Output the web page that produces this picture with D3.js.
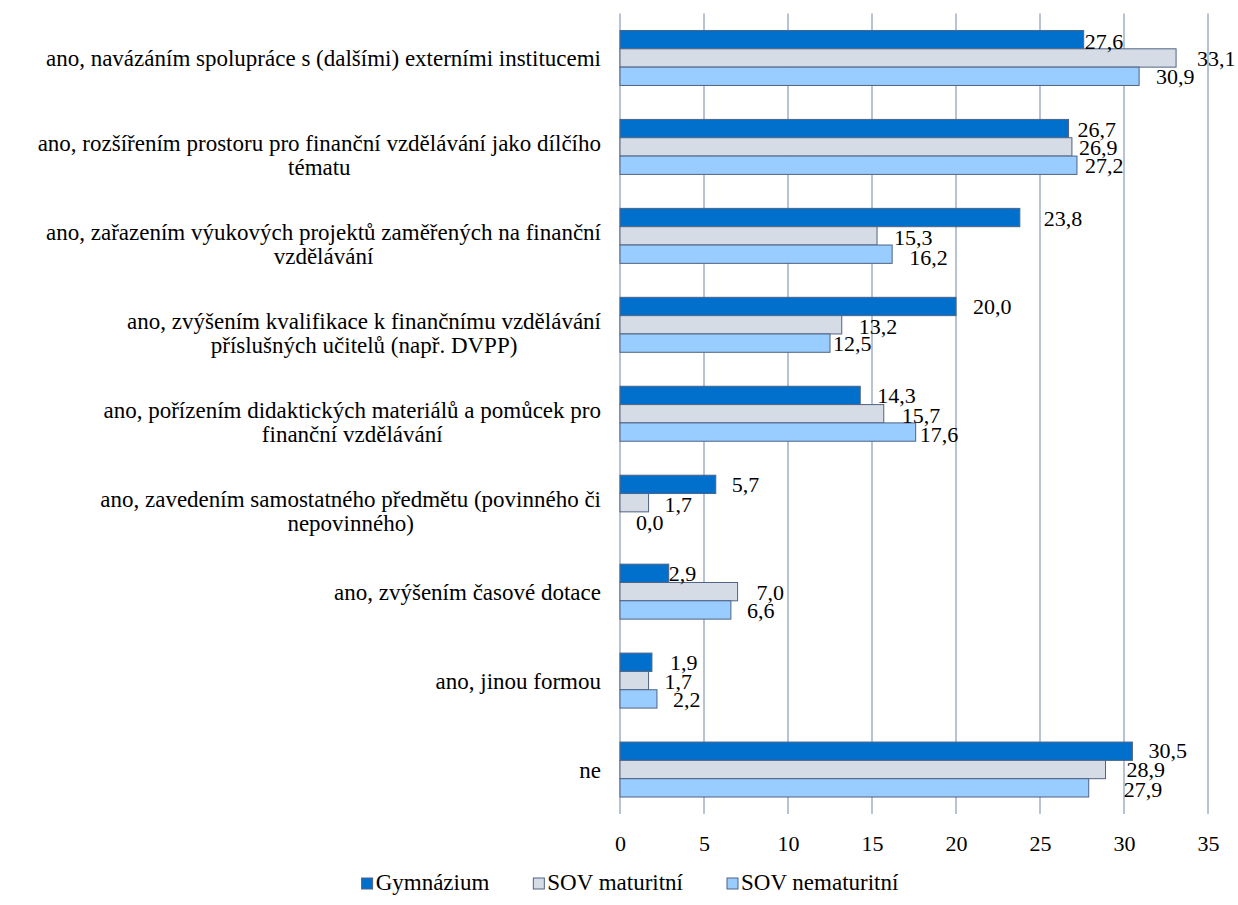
<!DOCTYPE html>
<html>
<head>
<meta charset="utf-8">
<script src="https://cdn.jsdelivr.net/npm/d3@7"></script>
<style>
  html, body { margin: 0; padding: 0; background: #fff; }
  svg { display: block; }
  svg text { font-family: "Liberation Serif", "Times New Roman", serif; }
</style>
</head>
<body>
<svg id="chart" width="1238" height="905"></svg>
<script>
// Category labels (already split into the lines they wrap to)
const categories = [
  ["ano, navázáním spolupráce s (dalšími) externími institucemi"],
  ["ano, rozšířením prostoru pro finanční vzdělávání jako dílčího", "tématu"],
  ["ano, zařazením výukových projektů zaměřených na finanční", "vzdělávání"],
  ["ano, zvýšením kvalifikace k finančnímu vzdělávání", "příslušných učitelů (např. DVPP)"],
  ["ano, pořízením didaktických materiálů a pomůcek pro", "finanční vzdělávání"],
  ["ano, zavedením samostatného předmětu (povinného či", "nepovinného)"],
  ["ano, zvýšením časové dotace"],
  ["ano, jinou formou"],
  ["ne"]
];

const seriesNames = ["Gymnázium", "SOV maturitní", "SOV nematuritní"];

// Percentages per category for each school type
const gymnazium      = [27.6, 26.7, 23.8, 20.0, 14.3, 5.7, 2.9, 1.9, 30.5];
const sovMaturitni   = [33.1, 26.9, 15.3, 13.2, 15.7, 1.7, 7.0, 1.7, 28.9];
const sovNematuritni = [30.9, 27.2, 16.2, 12.5, 17.6, 0.0, 6.6, 2.2, 27.9];

const xTicks = [0, 5, 10, 15, 20, 25, 30, 35];

// Per-label nudges [dx, dy] so that crowded value labels do not collide
const labelNudge = [
  [[-15, 1], [5, 0], [1, 0]],
  [[-7, 0], [-9, 0], [-8, 0]],
  [[8, 0], [1, 1], [1, 3]],
  [[1, 0], [1, 1], [-13, 0]],
  [[1, 0], [2, 1], [-12, 2]],
  [[0, 0], [0, 1], [0, 1]],
  [[-16, 0], [3, 0], [0, 0]],
  [[2, 0], [0, 0], [0, 0]],
  [[0, -1], [5, -1], [19, 1]]
];

const colors = ["#0070cc", "#d6dce5", "#99ccff"];
const barStroke = "#4f6383";
const gridColor = "#a5b3c8";
const fontSize = 22;
const catFontSize = 23;
const legendFontSize = 23;

const values = [gymnazium, sovMaturitni, sovNematuritni];
const rows = categories.map((lines, i) => ({
  i, lines,
  vals: seriesNames.map((s, k) => ({ k, v: values[k][i] }))
}));

const svg = d3.select("#chart").attr("font-size", fontSize);

const plot = { left: 620, right: 1208, top: 13.5, bottom: 814 };

const x = d3.scaleLinear().domain([0, 35]).range([plot.left, plot.right]);
const y0 = d3.scaleBand()
  .domain(d3.range(categories.length))
  .range([plot.top, plot.bottom])
  .paddingInner(0.382)
  .paddingOuter(0.191);
const y1 = d3.scaleBand()
  .domain(d3.range(seriesNames.length))
  .range([0, y0.bandwidth()]);

// Vertical gridlines
svg.append("g")
  .selectAll("line")
  .data(xTicks)
  .join("line")
  .attr("x1", d => x(d)).attr("x2", d => x(d))
  .attr("y1", plot.top).attr("y2", plot.bottom)
  .attr("stroke", gridColor)
  .attr("stroke-width", 1.6);

// X axis tick labels
const xAxis = d3.axisBottom(x).tickValues(xTicks).tickSize(0).tickPadding(0).tickFormat(d3.format("d"));
const gx = svg.append("g")
  .attr("transform", `translate(0,${plot.bottom})`)
  .call(xAxis)
  .attr("font-family", null)
  .attr("font-size", fontSize);
gx.select(".domain").remove();
gx.selectAll("text")
  .attr("y", 37).attr("dy", null)
  .attr("fill", "#000");

// Bars
const groups = svg.append("g")
  .selectAll("g")
  .data(rows)
  .join("g")
  .attr("transform", d => `translate(0,${y0(d.i)})`);

groups.selectAll("rect")
  .data(d => d.vals)
  .join("rect")
  .attr("x", x(0))
  .attr("y", d => y1(d.k))
  .attr("width", d => x(d.v) - x(0))
  .attr("height", y1.bandwidth())
  .attr("fill", d => colors[d.k])
  .attr("stroke", barStroke)
  .attr("stroke-width", 1);

// Value labels (decimal comma)
const fmt = v => d3.format(".1f")(v).replace(".", ",");
groups.selectAll("text.val")
  .data(d => d.vals.map(v => ({ ...v, nudge: labelNudge[d.i][v.k] })))
  .join("text")
  .attr("class", "val")
  .attr("x", d => x(d.v) + 16 + d.nudge[0])
  .attr("y", d => y1(d.k) + y1.bandwidth() / 2 + 8 + d.nudge[1])
  .text(d => fmt(d.v));

// Category labels: lines centred within a block right-aligned to the plot
const labelRight = 601;
const lineHeight = 24;
rows.forEach(r => {
  const cy = y0(r.i) + y0.bandwidth() / 2;
  const g = svg.append("g").attr("font-size", catFontSize);
  const texts = r.lines.map(line => g.append("text")
    .attr("text-anchor", "middle")
    .text(line));
  const maxW = d3.max(texts, t => t.node().getComputedTextLength());
  const n = r.lines.length;
  const firstBase = n === 1 ? cy + 8 : cy + 4;
  texts.forEach((t, j) => t
    .attr("x", labelRight - maxW / 2)
    .attr("y", firstBase + j * lineHeight));
});

// Legend
const legend = svg.append("g").attr("font-size", legendFontSize);
const sq = 11, gapSq = 3, gapItem = 44;
const items = seriesNames.map((name, k) => {
  const g = legend.append("g");
  g.append("rect")
    .attr("width", sq).attr("height", sq)
    .attr("fill", colors[k]).attr("stroke", barStroke).attr("stroke-width", 1);
  const t = g.append("text")
    .attr("x", sq + gapSq)
    .attr("y", sq + 1)
    .text(name);
  return { g, w: sq + gapSq + t.node().getComputedTextLength() };
});
const totalW = d3.sum(items, d => d.w) + gapItem * (items.length - 1);
let lx = 630 - totalW / 2;
items.forEach(it => {
  it.g.attr("transform", `translate(${lx},${878})`);
  lx += it.w + gapItem;
});
</script>
</body>
</html>
